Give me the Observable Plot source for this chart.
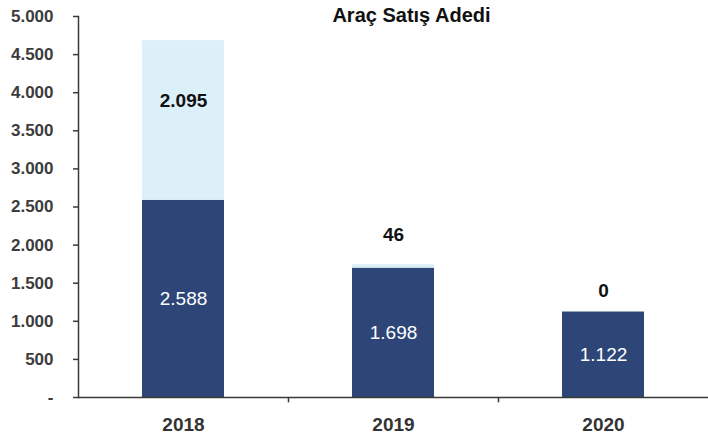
<!DOCTYPE html>
<html>
<head>
<meta charset="utf-8">
<script src="https://cdn.jsdelivr.net/npm/d3@7"></script>
<script src="https://cdn.jsdelivr.net/npm/@observablehq/plot@0.6"></script>
<style>
  html, body { margin: 0; padding: 0; background: #fff; }
  #chart { width: 708px; height: 435px; overflow: hidden; }
</style>
</head>
<body>
<div id="chart"></div>
<script>
const title = "Araç Satış Adedi";
const years = ["2018", "2019", "2020"];
const baseValues = [2588, 1698, 1122];
const extraValues = [2095, 46, 0];
const yTicks = [0, 500, 1000, 1500, 2000, 2500, 3000, 3500, 4000, 4500, 5000];

const fmt = v => v === 0 ? "-" : d3.format(",")(v).replace(/,/g, ".");
const fmtLabel = v => d3.format(",")(v).replace(/,/g, ".");

const baseRows = years.map((y, i) => ({year: y, series: "base", value: baseValues[i]}));
const extraRows = years.map((y, i) => ({year: y, series: "extra", value: extraValues[i], base: baseValues[i]}));
const rows = [...baseRows, ...extraRows];

const font = "'Liberation Sans', Arial, sans-serif";

const chart = Plot.plot({
  width: 708,
  height: 435,
  marginLeft: 78,
  marginRight: 0,
  marginTop: 16,
  marginBottom: 38,
  style: {fontFamily: font, background: "#fff", overflow: "visible"},
  x: {domain: years, paddingInner: 0.61, paddingOuter: 0.305, axis: null, label: null},
  y: {domain: [0, 5000], axis: null, label: null},
  color: {domain: ["base", "extra"], range: ["#2d4677", "#dcf0fa"]},
  marks: [
    Plot.barY(rows, {x: "year", y: "value", fill: "series"}),
    Plot.frame({anchor: "left", stroke: "#3a3a3a", strokeWidth: 1.5}),
    Plot.ruleY([0], {stroke: "#3a3a3a", strokeWidth: 1.5}),
    Plot.ruleX(years.slice(0, 2), {x: d => d, dx: 105, y1: 0, y2: -70, stroke: "#3a3a3a", strokeWidth: 1.5}),
    Plot.axisY({
      ticks: yTicks,
      tickFormat: fmt,
      tickSize: 5,
      tickPadding: 20,
      fontSize: 17,
      fontWeight: "bold",
      fill: "#3c3c3c",
      stroke: "#3a3a3a",
      strokeWidth: 1.5,
      strokeOpacity: 1,
      label: null
    }),
    Plot.axisX({
      tickSize: 0,
      tickPadding: 20,
      fontSize: 19,
      fontWeight: "bold",
      fill: "#333",
      label: null
    }),
    // labels inside the dark bars
    Plot.text(baseRows, {
      x: "year", y: d => d.value / 2, text: d => fmtLabel(d.value),
      fill: "white", fontSize: 19
    }),
    // label inside the light segment (2018)
    Plot.text(extraRows.filter(d => d.year === "2018"), {
      x: "year", y: d => d.base + d.value / 2, dy: -20, text: d => fmtLabel(d.value),
      fill: "#111", fontSize: 19, fontWeight: "bold"
    }),
    // labels above the bars
    Plot.text(extraRows.filter(d => d.year === "2019"), {
      x: "year", y: d => d.base + d.value, dy: -30, text: d => fmtLabel(d.value),
      fill: "#111", fontSize: 19, fontWeight: "bold"
    }),
    Plot.text(extraRows.filter(d => d.year === "2020"), {
      x: "year", y: d => d.base + d.value, dy: -21, text: d => fmtLabel(d.value),
      fill: "#111", fontSize: 19, fontWeight: "bold"
    }),
    Plot.text([title], {
      frameAnchor: "top", dx: 18, dy: 5, lineAnchor: "bottom",
      text: d => d, fontSize: 20, fontWeight: "bold", fill: "#111"
    })
  ]
});
document.getElementById("chart").appendChild(chart);
</script>
</body>
</html>
